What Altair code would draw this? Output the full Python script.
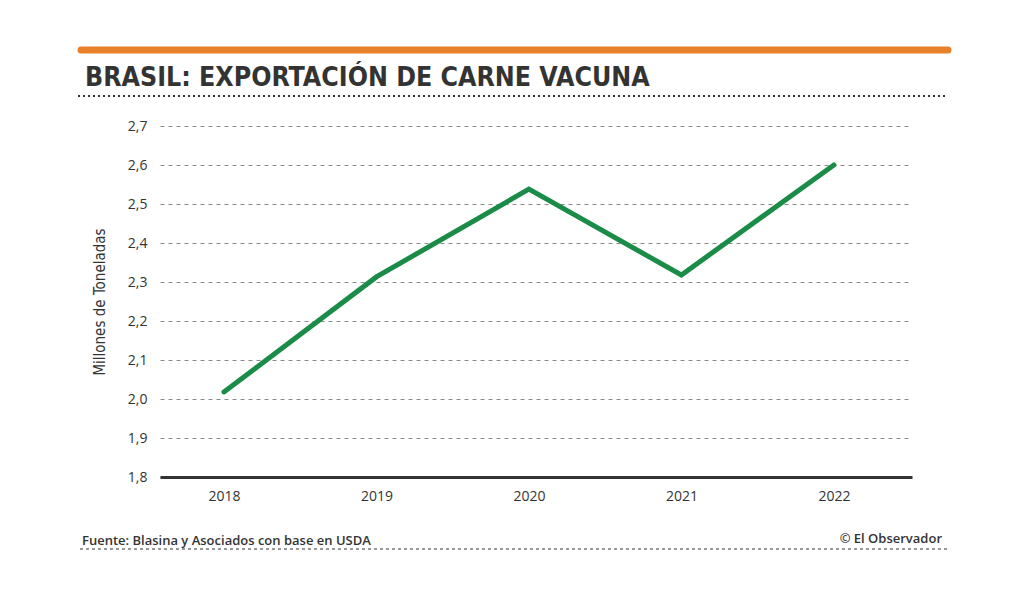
import altair as alt
import pandas as pd

years = ["2018", "2019", "2020", "2021", "2022"]
values = [2.018, 2.313, 2.538, 2.318, 2.600]
y_ticks = [1.8, 1.9, 2.0, 2.1, 2.2, 2.3, 2.4, 2.5, 2.6, 2.7]

title_text = "BRASIL: EXPORTACIÓN DE CARNE VACUNA"
source_text = "Fuente: Blasina y Asociados con base en USDA"
credit_text = "© El Observador"
y_title = "Millones de Toneladas"

df = pd.DataFrame({"year": years, "value": values})
one = pd.DataFrame({"a": [0]})

W, H = 752, 351
DARK = "#333333"
FONT = "Open Sans"
COND = "DejaVu Sans Condensed, Roboto, sans-serif"

line = alt.Chart(df).mark_line(
    color="#1A8C47", strokeWidth=5, strokeCap="round", strokeJoin="miter"
).encode(
    x=alt.X("year:O", sort=years,
            scale=alt.Scale(type="point", padding=0.4656, align=0.45),
            axis=alt.Axis(title=None, labelAngle=0, labelFontSize=14, labelColor=DARK,
                          labelFont=FONT, labelPadding=12, ticks=False,
                          domain=True, domainColor=DARK, domainWidth=3, grid=False)),
    y=alt.Y("value:Q", scale=alt.Scale(domain=[1.8, 2.7], nice=False, zero=False),
            axis=alt.Axis(title=y_title, values=y_ticks, format=".1f",
                          labelExpr="replace(format(datum.value, '.1f'), '.', ',')",
                          labelFontSize=14, labelColor=DARK, labelFont=FONT,
                          labelPadding=13, ticks=False, domain=False,
                          grid=True, gridColor="#8a8a8a", gridDash=[4, 4], gridWidth=1,
                          titleFont=COND, titleFontSize=15,
                          titleFontWeight="normal", titleColor=DARK, titlePadding=20)),
)

orange = alt.Chart(one).mark_rule(color="#E8822A", strokeWidth=7, strokeCap="round").encode(
    x=alt.value(-79), x2=alt.value(788), y=alt.value(-76))

title = alt.Chart(one).mark_text(
    text=title_text, align="left", baseline="alphabetic", fontSize=26.5,
    fontWeight="bold", font=COND, color=DARK
).encode(x=alt.value(-75), y=alt.value(-40))

dots_top = alt.Chart(one).mark_rule(color=DARK, strokeWidth=2, strokeDash=[2, 3]).encode(
    x=alt.value(-82), x2=alt.value(786), y=alt.value(-30))

source = alt.Chart(one).mark_text(
    text=source_text, align="left", baseline="alphabetic", fontSize=13,
    fontWeight=600, font=FONT, color=DARK
).encode(x=alt.value(-78), y=alt.value(419))

credit = alt.Chart(one).mark_text(
    text=credit_text, align="right", baseline="alphabetic", fontSize=13,
    fontWeight=600, font=FONT, color=DARK
).encode(x=alt.value(782), y=alt.value(417))

dots_bottom = alt.Chart(one).mark_rule(color=DARK, strokeWidth=1.2, strokeDash=[3, 3]).encode(
    x=alt.value(-80), x2=alt.value(790), y=alt.value(423))

chart = alt.layer(orange, title, dots_top, line, source, credit, dots_bottom).properties(
    width=W, height=H,
    autosize=alt.AutoSizeParams(type="none"),
    padding={"left": 152, "top": 118, "right": 100, "bottom": 100},
    background="#ffffff",
).configure_view(stroke=None)

chart.save("out.html", embed_options={"renderer": "svg", "actions": False})
